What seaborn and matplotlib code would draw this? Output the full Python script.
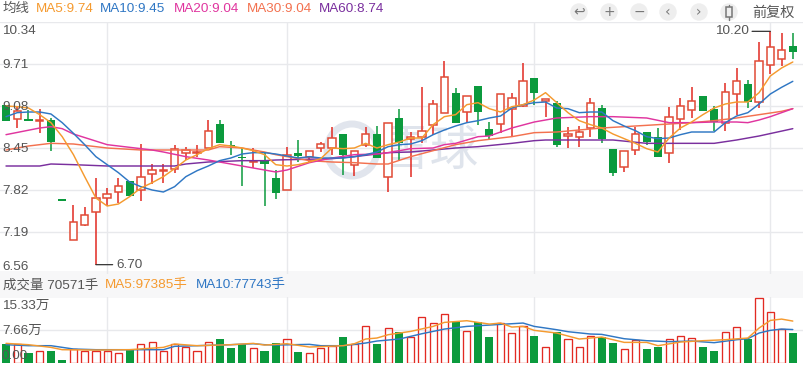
# 日K线 + 均线 + 成交量
import seaborn as sns
import matplotlib
matplotlib.use("Agg")
import matplotlib.pyplot as plt
from matplotlib.patches import Circle, Rectangle, Ellipse
import numpy as np
import pandas as pd

open_p = [9.10, 8.89, 8.89, 8.86, 8.87, 7.69, 7.07, 7.30, 7.49, 7.70, 7.79, 7.96, 7.82, 8.06, 8.11, 8.14, 8.38, 8.38,
          8.45, 8.81, 8.50, 8.31, 8.24, 8.25, 8.00, 7.82, 8.38, 8.31, 8.45, 8.45, 8.66, 8.20, 8.50, 8.66, 8.01, 8.90,
          8.58, 8.61, 8.80, 8.97, 9.27, 8.99, 9.38, 8.74, 8.81, 9.03, 9.08, 9.50, 9.16, 9.13, 8.63, 8.62, 8.75, 9.05,
          8.44, 8.17, 8.42, 8.69, 8.62, 8.37, 8.89, 9.02, 9.23, 9.03, 8.82, 9.26, 9.41, 9.14, 9.70, 9.79, 9.98]
close_p = [8.85, 9.00, 8.86, 8.87, 8.54, 7.66, 7.34, 7.45, 7.70, 7.76, 7.88, 7.73, 8.01, 8.12, 8.12, 8.44, 8.42, 8.39,
           8.70, 8.52, 8.48, 8.30, 8.26, 8.21, 7.78, 8.34, 8.33, 8.40, 8.51, 8.60, 8.34, 8.41, 8.66, 8.30, 8.83, 8.52,
           8.61, 8.70, 9.11, 9.52, 8.82, 9.23, 8.99, 8.63, 9.26, 9.20, 9.46, 9.28, 9.19, 8.50, 8.66, 8.69, 9.13, 8.59,
           8.08, 8.41, 8.66, 8.54, 8.31, 8.92, 9.08, 9.16, 9.00, 8.84, 9.29, 9.46, 9.14, 9.76, 9.97, 9.92, 9.89]
high_p = [9.10, 9.07, 9.02, 9.04, 8.90, 7.69, 7.60, 7.57, 8.00, 7.85, 8.00, 7.96, 8.51, 8.21, 8.21, 8.50, 8.47, 8.50,
          8.87, 8.87, 8.56, 8.45, 8.45, 8.39, 8.12, 8.46, 8.57, 8.40, 8.54, 8.77, 8.66, 8.41, 8.77, 8.78, 8.83, 9.04,
          8.69, 9.37, 9.17, 9.75, 9.35, 9.23, 9.38, 8.84, 9.26, 9.28, 9.73, 9.50, 9.19, 9.16, 8.77, 8.78, 9.20, 9.10,
          8.44, 8.41, 8.77, 8.69, 8.75, 9.07, 9.20, 9.37, 9.23, 9.08, 9.43, 9.65, 9.47, 10.04, 10.20, 10.18, 10.18]
low_p = [8.85, 8.75, 8.86, 8.68, 8.41, 7.66, 7.07, 7.28, 6.70, 7.58, 7.63, 7.73, 7.66, 7.91, 7.92, 8.08, 8.27, 8.32,
         8.45, 8.52, 8.35, 7.88, 8.15, 7.58, 7.69, 7.82, 8.24, 8.24, 8.39, 8.35, 8.05, 8.03, 8.47, 8.30, 7.79, 8.25,
         8.01, 8.52, 8.65, 8.97, 8.82, 8.82, 8.80, 8.57, 8.67, 8.61, 9.07, 9.10, 8.92, 8.47, 8.45, 8.47, 8.62, 8.52,
         8.03, 8.09, 8.35, 8.50, 8.31, 8.23, 8.72, 8.90, 9.00, 8.70, 8.70, 8.95, 9.05, 9.05, 9.56, 9.68, 9.79]

ma5 = [9.08, 9.07, 9.05, 8.95, 8.83, 8.62, 8.35, 8.02, 7.70, 7.58, 7.61, 7.72, 7.85, 7.93, 8.02, 8.14, 8.27, 8.35,
       8.44, 8.50, 8.48, 8.45, 8.41, 8.35, 8.20, 8.18, 8.20, 8.24, 8.29, 8.45, 8.44, 8.45, 8.52, 8.45, 8.50, 8.54,
       8.60, 8.60, 8.80, 8.92, 8.95, 9.10, 9.13, 9.04, 8.99, 9.07, 9.10, 9.17, 9.28, 9.13, 8.98, 8.86, 8.80, 8.75,
       8.66, 8.59, 8.52, 8.44, 8.39, 8.60, 8.75, 8.84, 8.95, 9.05, 9.11, 9.14, 9.14, 9.28, 9.53, 9.65, 9.74]
ma10 = [8.92, 8.98, 8.99, 8.99, 8.96, 8.83, 8.67, 8.50, 8.32, 8.20, 8.08, 7.94, 7.87, 7.82, 7.79, 7.87, 8.02, 8.11,
        8.18, 8.26, 8.30, 8.36, 8.38, 8.38, 8.36, 8.33, 8.30, 8.32, 8.30, 8.30, 8.30, 8.32, 8.35, 8.39, 8.47, 8.50,
        8.51, 8.56, 8.65, 8.72, 8.78, 8.83, 8.86, 8.90, 8.93, 9.05, 9.10, 9.13, 9.14, 9.05, 9.04, 8.98, 8.99, 8.99,
        8.86, 8.78, 8.71, 8.62, 8.59, 8.60, 8.65, 8.69, 8.69, 8.69, 8.83, 8.93, 8.98, 9.11, 9.26, 9.36, 9.45]
ma20_i = [0, 3, 4, 5, 6, 9, 13, 14, 16, 18, 20, 22, 24, 25, 27, 29, 31, 33, 34, 36, 38, 39, 40, 42, 43, 45, 47, 49, 52,
          54, 57, 59, 61, 63, 65, 66, 67, 68, 70]
ma20 = [8.65, 8.75, 8.77, 8.74, 8.66, 8.50, 8.42, 8.39, 8.32, 8.27, 8.21, 8.15, 8.09, 8.12, 8.23, 8.30, 8.35, 8.36,
        8.38, 8.44, 8.45, 8.50, 8.52, 8.62, 8.63, 8.75, 8.84, 8.90, 8.92, 8.92, 8.90, 8.83, 8.83, 8.84, 8.84, 8.83,
        8.87, 8.92, 9.04]
ma30_i = [0, 2, 4, 6, 9, 12, 15, 18, 19, 21, 23, 24, 25, 27, 29, 31, 33, 34, 36, 38, 40, 42, 45, 47, 49, 51, 53, 56,
          58, 59, 61, 63, 65, 67, 69, 70]
ma30 = [8.42, 8.48, 8.52, 8.51, 8.45, 8.42, 8.42, 8.42, 8.47, 8.45, 8.39, 8.35, 8.32, 8.26, 8.24, 8.23, 8.21, 8.21,
        8.32, 8.41, 8.50, 8.56, 8.62, 8.68, 8.69, 8.72, 8.75, 8.78, 8.80, 8.81, 8.83, 8.86, 8.90, 8.95, 9.00, 9.04]
ma60_i = [0, 3, 4, 6, 9, 12, 15, 16, 18, 21, 23, 24, 29, 31, 34, 36, 38, 40, 42, 45, 47, 48, 54, 57, 63, 65, 67, 70]
ma60 = [8.18, 8.18, 8.21, 8.20, 8.18, 8.18, 8.18, 8.21, 8.24, 8.26, 8.26, 8.27, 8.29, 8.32, 8.38, 8.39, 8.42, 8.45,
        8.47, 8.52, 8.56, 8.57, 8.57, 8.52, 8.52, 8.57, 8.63, 8.74]

# 成交量 单位:万手
volume = [4.48, 4.48, 2.32, 2.86, 2.86, 0.62, 3.32, 2.86, 2.71, 2.86, 2.40, 2.94, 4.41, 4.87, 2.86, 4.41, 3.71, 2.86,
          4.87, 5.64, 3.56, 4.48, 3.48, 2.86, 4.72, 5.57, 2.63, 2.24, 3.48, 3.87, 6.11, 4.33, 8.58, 4.48, 8.12, 7.27,
          6.03, 10.67, 9.28, 11.36, 9.43, 7.50, 9.43, 6.11, 9.28, 7.03, 8.58, 6.18, 3.71, 7.27, 5.57, 3.71, 6.26, 5.95,
          4.56, 3.25, 5.26, 3.32, 3.63, 5.57, 6.26, 5.80, 3.63, 2.86, 7.19, 8.35, 5.64, 15.07, 11.83, 7.88, 7.06]
vol_ma5_i = [0, 2, 4, 5, 8, 11, 14, 15, 17, 20, 22, 23, 24, 25, 27, 30, 31, 32, 33, 34, 36, 38, 39, 41, 43, 44, 45, 46,
             47, 49, 51, 53, 55, 57, 58, 60, 62, 64, 66, 67, 68, 69, 70]
vol_ma5 = [4.56, 4.25, 3.63, 3.09, 3.01, 3.09, 3.63, 4.41, 4.02, 4.25, 4.56, 4.17, 4.33, 4.48, 3.71, 4.02, 4.48, 5.57,
           5.80, 6.57, 7.34, 8.50, 9.43, 9.82, 9.04, 9.28, 8.35, 8.50, 7.58, 6.96, 5.57, 6.03, 4.79, 4.79, 4.02, 4.87,
           5.18, 5.41, 5.80, 8.12, 9.89, 10.20, 9.74]
vol_ma10_i = [0, 2, 4, 6, 8, 11, 14, 15, 17, 20, 22, 23, 24, 27, 28, 30, 32, 33, 35, 37, 39, 41, 43, 46, 47, 48, 49, 50,
              52, 53, 55, 57, 59, 61, 63, 65, 66, 67, 68, 69, 70]
vol_ma10 = [4.25, 4.02, 4.02, 3.25, 3.09, 3.09, 3.09, 3.87, 4.02, 4.25, 4.48, 4.25, 4.17, 4.33, 4.02, 4.02, 4.64, 5.10,
            5.57, 6.80, 7.88, 8.50, 8.81, 9.28, 8.50, 8.12, 7.73, 7.27, 6.73, 6.65, 5.64, 5.18, 4.95, 5.10, 4.72, 5.41,
            5.64, 6.96, 7.58, 7.88, 7.77]

price_ticks = [10.34, 9.71, 9.08, 8.45, 7.82, 7.19, 6.56]
grid_days = [9, 25, 47, 68]

RED = "#e22a22"
BODY_RED = "#e04a36"
GREEN = "#0b9a3d"
TXT = "#555555"
C_MA5 = "#f59a2f"
C_MA10 = "#2f77c4"
C_MA20 = "#e0359f"
C_MA30 = "#f3714f"
C_MA60 = "#7a2f9e"
GRID = "#e8e9ec"

sns.set_style("white")
plt.rcParams["font.family"] = ["Liberation Sans", "Noto Sans CJK SC", "DejaVu Sans"]

W, H = 804, 367
fig = plt.figure(figsize=(W / 100, H / 100), dpi=100)


def box(top, bottom):
    return [0, 1 - bottom / H, 1, (bottom - top) / H]


back = fig.add_axes([0, 0, 1, 1], zorder=0)
ax = fig.add_axes(box(22, 274), zorder=1)
ax_v = fig.add_axes(box(297, 363), zorder=1)
front = fig.add_axes([0, 0, 1, 1], zorder=5)
for a in (back, front):
    a.set_xlim(0, W)
    a.set_ylim(H, 0)
    a.axis("off")

# 背景:成交量标题条 + 水印
back.add_patch(Rectangle((0, 271), W, 27, color="#f7f7f8", lw=0))
back.add_patch(Ellipse((352, 150), 50, 52, fill=False, ec="#e1e5ed", lw=5))
back.text(430, 152, "雪球", fontsize=35, color="#dfe4ec", fontweight="medium", ha="center", va="center")

days = np.arange(len(open_p))
o = np.array(open_p)
c = np.array(close_p)
hi = np.array(high_p)
lo = np.array(low_p)
up = c >= o
tops = np.maximum(o, c)
bots = np.minimum(o, c)
xlim = (-6 / 11.24, (W - 6) / 11.24)

# K线
ax.vlines(days[up], lo[up], hi[up], color=RED, lw=1.1, zorder=2)
ax.vlines(days[~up], lo[~up], hi[~up], color=GREEN, lw=1.1, zorder=2)
ax.bar(days[up], (tops - bots)[up], bottom=bots[up], width=0.66, facecolor="white", edgecolor=BODY_RED, lw=1.1, zorder=3)
ax.bar(days[~up], (tops - bots)[~up], bottom=bots[~up], width=0.72, color=GREEN, lw=0, zorder=3)

# 均线
for idx, vals, col in [(ma60_i, ma60, C_MA60),
                       (ma30_i, ma30, C_MA30),
                       (ma20_i, ma20, C_MA20),
                       (days, ma10, C_MA10),
                       (days, ma5, C_MA5)]:
    sns.lineplot(x=idx, y=vals, color=col, lw=1.05, ax=ax, legend=False, errorbar=None, zorder=4)

ax.set_xlim(*xlim)
ax.set_ylim(price_ticks[-1], price_ticks[0])
ax.set_xticks(grid_days)
ax.set_yticks(price_ticks[:-1])

ax.annotate("6.70", xy=(8, 6.70), xytext=(14.4, 0), textcoords="offset points", color=TXT, fontsize=9.7,
            va="center", ha="left", arrowprops=dict(arrowstyle="-", color="#333333", lw=0.9, shrinkA=0, shrinkB=0))
ax.annotate("10.20", xy=(68, 10.20), xytext=(-15.5, 0), textcoords="offset points", color=TXT, fontsize=9.7,
            va="center", ha="right", arrowprops=dict(arrowstyle="-", color="#333333", lw=0.9, shrinkA=0, shrinkB=0))

# 成交量
vol = pd.DataFrame({"day": days, "vol": volume, "up": up})
sns.barplot(data=vol[~vol.up], x="day", y="vol", color=GREEN, native_scale=True, width=0.72, errorbar=None,
            saturation=1, linewidth=0, ax=ax_v, zorder=2)
sns.barplot(data=vol[vol.up], x="day", y="vol", color=RED, native_scale=True, width=0.64, errorbar=None,
            fill=False, saturation=1, linewidth=0.95, ax=ax_v, zorder=2)
sns.lineplot(x=vol_ma10_i, y=vol_ma10, color=C_MA10, lw=1.05, ax=ax_v, legend=False, errorbar=None, zorder=4)
sns.lineplot(x=vol_ma5_i, y=vol_ma5, color=C_MA5, lw=1.05, ax=ax_v, legend=False, errorbar=None, zorder=4)
ax_v.set_xlim(*xlim)
ax_v.set_ylim(0, 15.33)
ax_v.set_xticks(grid_days)
ax_v.set_yticks([7.66])

for a in (ax, ax_v):
    a.patch.set_visible(False)
    a.grid(True, color=GRID, lw=1)
    a.set_axisbelow(True)
    a.set_xlabel("")
    a.set_ylabel("")
    a.tick_params(length=0, labelbottom=False, labelleft=False)
    sns.despine(ax=a, left=True, bottom=True)

# 文字
fs = 9.7
front.text(3, 8.5, "均线", fontsize=fs, color=TXT, va="center")
for x0, label, col in [(36, "MA5:9.74", C_MA5), (100, "MA10:9.45", C_MA10), (174, "MA20:9.04", C_MA20),
                       (247, "MA30:9.04", C_MA30), (319, "MA60:8.74", C_MA60)]:
    front.text(x0, 8.5, label, fontsize=fs, color=col, va="center")
front.text(3, 285, "成交量 70571手", fontsize=fs, color=TXT, va="center")
front.text(105, 285, "MA5:97385手", fontsize=fs, color=C_MA5, va="center")
front.text(196, 285, "MA10:77743手", fontsize=fs, color=C_MA10, va="center")

for t, y in zip(price_ticks, [30.5, 64.5, 106.5, 148.5, 190.5, 232.5, 266.5]):
    front.text(2, y, f"{t:.2f}", fontsize=fs, color=TXT, va="center")
front.text(2, 306, "15.33万", fontsize=fs, color=TXT, va="center")
front.text(2, 331, "7.66万", fontsize=fs, color=TXT, va="center")
front.text(2, 356, "0.00", fontsize=fs, color=TXT, va="center")

# 工具条
for x0, g in zip([579, 609, 639, 668, 699, 729], ["↩", "+", "−", "‹", "›", ""]):
    front.add_patch(Circle((x0, 12), 8.7, color="#eeeeee", lw=0))
    if g:
        front.text(x0, 11.5, g, fontsize=10, color="#777777", ha="center", va="center",
                   family=["DejaVu Sans"])
front.plot([729, 729], [4.5, 19.5], color="#777777", lw=1)
front.add_patch(Rectangle((726, 7), 6, 10, fc="#eeeeee", ec="#777777", lw=1.1, zorder=3))
front.text(795, 12.5, "前复权", fontsize=10.2, color=TXT, ha="right", va="center")

fig.savefig("out.png", dpi=100)
